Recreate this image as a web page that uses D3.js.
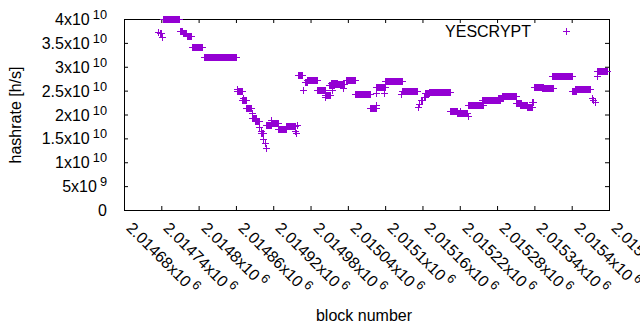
<!DOCTYPE html>
<html>
<head>
<meta charset="utf-8">
<script src="https://cdn.jsdelivr.net/npm/d3@7"></script>
<style>
body { margin: 0; background: #fff; }
svg { display: block; font-family: "Liberation Sans", Arial, sans-serif; }
</style>
</head>
<body>
<script>
const width = 485;
const height = 191;
const margin = {left: 124, top: 19};
const color = '#9400d3';
const ps = 3.5;

// runs of consecutive blocks with the same hashrate (single blocks have start == end)
const runStart = [2014735, 2014738, 2014741, 2014743, 2014770, 2014775, 2014781, 2014790, 2014809,
    2014862, 2014862, 2014870, 2014871, 2014877, 2014886, 2014886, 2014891, 2014897, 2014900, 2014900,
    2014904, 2014906, 2014908, 2014908, 2014916, 2014917, 2014928, 2014941, 2014955, 2014956, 2014958,
    2014960, 2014968, 2014971, 2014975, 2014990, 2015003, 2015004, 2015010, 2015013, 2015014, 2015020,
    2015033, 2015037, 2015051, 2015076, 2015085, 2015085, 2015086, 2015098, 2015100, 2015126, 2015127,
    2015153, 2015155, 2015157, 2015162, 2015164, 2015170, 2015204, 2015216, 2015221, 2015233, 2015233,
    2015256, 2015282, 2015288, 2015310, 2015317, 2015328, 2015336, 2015338, 2015339, 2015353, 2015369,
    2015401, 2015406, 2015432, 2015434, 2015437, 2015440, 2015440];
const runEnd = [2014735, 2014739, 2014741, 2014768, 2014774, 2014780, 2014788, 2014805, 2014860,
    2014862, 2014869, 2014876, 2014871, 2014885, 2014886, 2014893, 2014897, 2014897, 2014900, 2014904,
    2014904, 2014906, 2014908, 2014916, 2014927, 2014917, 2014940, 2014955, 2014955, 2014956, 2014958,
    2014966, 2014968, 2014975, 2014990, 2015003, 2015011, 2015004, 2015018, 2015023, 2015014, 2015034,
    2015033, 2015051, 2015075, 2015085, 2015085, 2015099, 2015086, 2015098, 2015127, 2015126, 2015151,
    2015153, 2015155, 2015160, 2015164, 2015170, 2015205, 2015216, 2015232, 2015221, 2015233, 2015257,
    2015284, 2015289, 2015311, 2015318, 2015328, 2015336, 2015336, 2015338, 2015354, 2015370, 2015400,
    2015407, 2015430, 2015432, 2015434, 2015437, 2015440, 2015456];
const runRate = [3.73e10, 3.70e10, 3.62e10, 4.00e10, 3.74e10, 3.70e10, 3.65e10, 3.41e10, 3.21e10,
    2.53e10, 2.49e10, 2.30e10, 2.35e10, 2.14e10, 2.03e10, 1.92e10, 1.87e10, 1.74e10, 1.65e10, 1.62e10,
    1.49e10, 1.40e10, 1.29e10, 1.77e10, 1.83e10, 1.89e10, 1.69e10, 1.755e10, 1.66e10, 1.61e10, 1.77e10,
    2.82e10, 2.52e10, 2.675e10, 2.72e10, 2.52e10, 2.40e10, 2.36e10, 2.61e10, 2.67e10, 2.52e10, 2.64e10,
    2.55e10, 2.72e10, 2.43e10, 2.14e10, 2.20e10, 2.57e10, 2.45e10, 2.46e10, 2.70e10, 2.43e10, 2.49e10,
    2.16e10, 2.23e10, 2.31e10, 2.36e10, 2.45e10, 2.47e10, 2.065e10, 2.03e10, 2.065e10, 1.96e10, 2.19e10,
    2.295e10, 2.34e10, 2.38e10, 2.24e10, 2.19e10, 2.16e10, 2.27e10, 2.27e10, 2.575e10, 2.545e10, 2.80e10,
    2.50e10, 2.53e10, 2.345e10, 2.31e10, 2.27e10, 2.81e10, 2.905e10];

const xTicks = [2014680, 2014740, 2014800, 2014860, 2014920, 2014980, 2015040,
    2015100, 2015160, 2015220, 2015280, 2015340, 2015400, 2015460];
const yTicks = [0, 5e9, 1e10, 1.5e10, 2e10, 2.5e10, 3e10, 3.5e10, 4e10];
const seriesName = 'YESCRYPT';

const svg = d3.select('body').append('svg')
    .attr('width', 640)
    .attr('height', 330);

const g = svg.append('g')
    .attr('transform', `translate(${margin.left}, ${margin.top})`);

const xScale = d3.scaleLinear()
    .domain([xTicks[0], xTicks[xTicks.length - 1]])
    .range([0, width]);
const yScale = d3.scaleLinear()
    .domain([0, 4e10])
    .range([height, 0]);

const px = v => Math.round(xScale(v)) + 0.5;
const py = v => Math.round(yScale(v)) + 0.5;

// inward ticks, mirrored on all four sides
function tickAxis(axis, transform) {
    g.append('g')
        .attr('transform', transform)
        .call(axis.tickSize(-4).tickFormat(''))
        .call(a => a.select('.domain').remove())
        .call(a => a.selectAll('line').attr('stroke', '#000'));
}
tickAxis(d3.axisLeft(yScale).tickValues(yTicks), 'translate(0,0)');
tickAxis(d3.axisRight(yScale).tickValues(yTicks), `translate(${width},0)`);
tickAxis(d3.axisBottom(xScale).tickValues(xTicks), `translate(0,${height})`);
tickAxis(d3.axisTop(xScale).tickValues(xTicks), 'translate(0,0)');

g.append('rect')
    .attr('x', 0.5)
    .attr('y', 0.5)
    .attr('width', width)
    .attr('height', height)
    .attr('fill', 'none')
    .attr('stroke', '#000');

// "2.5x10^10" style labels
function sci(v) {
    if (v === 0) return ['0', ''];
    const e = Math.floor(Math.log10(v) + 1e-9);
    const m = +(v / Math.pow(10, e)).toFixed(6);
    return [d3.format('~g')(m) + 'x10', String(e)];
}

function addLabel(sel) {
    sel.each(function(d) {
        const [base, exp] = sci(d);
        const t = d3.select(this);
        t.append('tspan').text(base);
        if (exp) t.append('tspan').attr('dx', 3).attr('dy', -6.5).attr('font-size', 12.8).text(exp);
    });
}

g.append('g').selectAll('text')
    .data(yTicks)
    .join('text')
    .attr('x', -17)
    .attr('y', d => py(d) + 5.5)
    .attr('text-anchor', 'end')
    .attr('font-size', 16)
    .attr('fill', '#000')
    .call(addLabel);

g.append('g').selectAll('text')
    .data(xTicks)
    .join('text')
    .attr('transform', d => `translate(${px(d) + 1}, ${height + 19}) rotate(45)`)
    .attr('font-size', 16)
    .attr('fill', '#000')
    .call(addLabel);

// points: dense runs show as solid bars of crosses
const runs = runStart.map((s, i) => ({start: s, end: runEnd[i], rate: runRate[i]}));

g.append('g').selectAll('rect')
    .data(runs.filter(d => d.end > d.start))
    .join('rect')
    .attr('x', d => px(d.start) - 0.5)
    .attr('width', d => px(d.end) - px(d.start) + 1)
    .attr('y', d => py(d.rate) - ps)
    .attr('height', 2 * ps)
    .attr('fill', color);

const ends = runs.flatMap(d => d.end > d.start
    ? [{b: d.start, rate: d.rate}, {b: d.end, rate: d.rate}]
    : [{b: d.start, rate: d.rate}]);

const cross = (x, y) => `M${x - ps},${y}H${x + ps}M${x},${y - ps}V${y + ps}`;

g.append('g').selectAll('path')
    .data(ends)
    .join('path')
    .attr('d', d => cross(px(d.b), py(d.rate)))
    .attr('fill', 'none')
    .attr('stroke', color)
    .attr('stroke-width', 1);

// legend
svg.append('text')
    .attr('x', 531)
    .attr('y', 37)
    .attr('text-anchor', 'end')
    .attr('font-size', 16)
    .text(seriesName);
svg.append('path')
    .attr('d', cross(566.5, 31.5))
    .attr('stroke', color)
    .attr('fill', 'none');

// axis titles
svg.append('text')
    .attr('transform', 'translate(21, 115) rotate(-90)')
    .attr('text-anchor', 'middle')
    .attr('font-size', 16)
    .text('hashrate [h/s]');
svg.append('text')
    .attr('x', 364)
    .attr('y', 321)
    .attr('text-anchor', 'middle')
    .attr('font-size', 16)
    .text('block number');
</script>
</body>
</html>
